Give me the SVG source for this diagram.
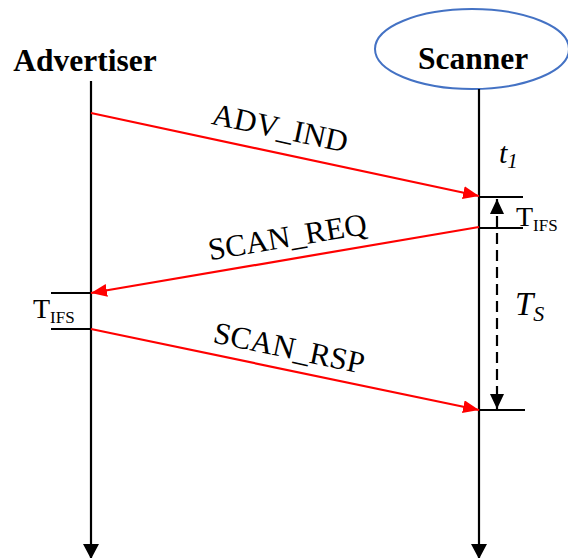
<svg xmlns="http://www.w3.org/2000/svg" width="568" height="558" viewBox="0 0 568 558">
  <style>
    .title { font-family: "Liberation Serif", "Times New Roman", serif; font-weight: bold; font-size: 31.5px; fill: #000; }
    .lbl { font-family: "Liberation Serif", "Times New Roman", serif; font-size: 31px; fill: #000; }
    .sym { font-family: "Liberation Serif", "Times New Roman", serif; fill: #000; }
    .life { stroke: #000; stroke-width: 2.2; fill: none; }
    .tick { stroke: #000; stroke-width: 2.2; fill: none; }
    .msg { stroke: #ff0000; stroke-width: 2.2; fill: none; }
    .dash { stroke: #000; stroke-width: 2.2; fill: none; stroke-dasharray: 11 6; }
  </style>
  <defs>
    <marker id="redHead" markerUnits="userSpaceOnUse" markerWidth="17" markerHeight="14" refX="16" refY="6.5" orient="auto">
      <path d="M0,0 L16,6.5 L0,13 z" fill="#ff0000"/>
    </marker>
    <marker id="blackHead" markerUnits="userSpaceOnUse" markerWidth="16" markerHeight="17" refX="15" refY="8" orient="auto-start-reverse">
      <path d="M0,0 L15,8 L0,16 z" fill="#000"/>
    </marker>
    <marker id="smallHead" markerUnits="userSpaceOnUse" markerWidth="16" markerHeight="15" refX="15" refY="7" orient="auto-start-reverse">
      <path d="M0,0 L15,7 L0,14 z" fill="#000"/>
    </marker>
  </defs>

  <g id="advertiser">
    <text class="title" x="85" y="71" text-anchor="middle">Advertiser</text>
    <line class="life" x1="91" y1="81" x2="91" y2="559" marker-end="url(#blackHead)"/>
    <line class="tick" x1="51" y1="293" x2="91" y2="293"/>
    <line class="tick" x1="51" y1="329" x2="91" y2="329"/>
    <text class="sym" x="33" y="318" font-size="28">T<tspan font-size="17" dy="5">IFS</tspan></text>
  </g>

  <g id="scanner">
    <ellipse cx="472" cy="49" rx="97" ry="40" fill="none" stroke="#4472c4" stroke-width="2"/>
    <text class="title" x="473" y="69" text-anchor="middle">Scanner</text>
    <line class="life" x1="479" y1="89" x2="479" y2="559" marker-end="url(#blackHead)"/>
    <line class="tick" x1="479" y1="197" x2="523" y2="197"/>
    <line class="tick" x1="479" y1="228" x2="523" y2="228"/>
    <line class="tick" x1="479" y1="410" x2="525" y2="410"/>
    <text class="sym" x="499" y="163" font-size="30" font-style="italic">t<tspan font-size="21" dy="5">1</tspan></text>
    <text class="sym" x="516" y="226" font-size="28">T<tspan font-size="17" dy="5">IFS</tspan></text>
    <text class="sym" x="515" y="315" font-size="33" font-style="italic">T<tspan font-size="22" dy="6">S</tspan></text>
  </g>

  <g id="connectors">
    <line class="msg" x1="91" y1="113" x2="479" y2="196" marker-end="url(#redHead)"/>
    <line class="msg" x1="479" y1="227" x2="91" y2="293" marker-end="url(#redHead)"/>
    <line class="msg" x1="91" y1="329" x2="479" y2="410" marker-end="url(#redHead)"/>
    <line class="dash" x1="497" y1="199" x2="497" y2="409" marker-start="url(#smallHead)" marker-end="url(#smallHead)"/>
  </g>

  <g id="labels">
    <text class="lbl" x="278" y="138" text-anchor="middle" transform="rotate(12 278 138)">ADV_IND</text>
    <text class="lbl" x="289" y="247" text-anchor="middle" transform="rotate(-9.6 289 247)">SCAN_REQ</text>
    <text class="lbl" x="287" y="358" text-anchor="middle" transform="rotate(11.9 287 358)">SCAN_RSP</text>
  </g>
</svg>
